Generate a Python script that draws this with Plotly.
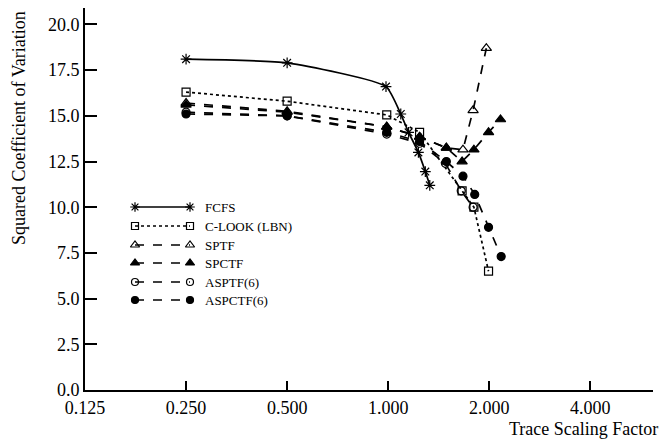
import plotly.graph_objects as go
import math

# ---- data ----
fcfs_x = [0.25, 0.5, 0.985, 1.09, 1.15, 1.23, 1.29, 1.33]
fcfs_y = [18.1, 17.9, 16.6, 15.1, 14.1, 13.0, 11.95, 11.2]

clook_x = [0.25, 0.5, 0.99, 1.24, 1.66, 1.8, 1.99]
clook_y = [16.3, 15.8, 15.05, 14.1, 10.9, 10.0, 6.5]

sptf_x = [0.25, 0.5, 0.99, 1.24, 1.49, 1.67, 1.79, 1.96]
sptf_y = [15.7, 15.25, 14.4, 13.85, 13.25, 13.15, 15.3, 18.7]

spctf_x = [0.25, 0.5, 0.99, 1.24, 1.49, 1.66, 1.8, 1.99, 2.16]
spctf_y = [15.6, 15.2, 14.4, 13.85, 13.25, 12.5, 13.15, 14.1, 14.8]

asptf_x = [0.25, 0.5, 0.99, 1.24, 1.48, 1.65, 1.79]
asptf_y = [15.2, 15.0, 14.0, 13.5, 12.4, 10.9, 10.0]

aspctf_x = [0.25, 0.5, 0.99, 1.24, 1.49, 1.67, 1.81, 1.99, 2.17]
aspctf_y = [15.1, 15.0, 14.1, 13.6, 12.5, 11.7, 10.7, 8.9, 7.3]

series_names = ["FCFS", "C-LOOK (LBN)", "SPTF", "SPCTF", "ASPTF(6)", "ASPCTF(6)"]
x_ticks = [0.125, 0.25, 0.5, 1.0, 2.0, 4.0]
x_tick_labels = ["0.125", "0.250", "0.500", "1.000", "2.000", "4.000"]
y_ticks = [0.0, 2.5, 5.0, 7.5, 10.0, 12.5, 15.0, 17.5, 20.0]

# ---- styles ----
styles = [
    dict(dash="solid", symbol="asterisk-open", size=9),
    dict(dash="dot", symbol="square-open", size=8),
    dict(dash="dash", symbol="triangle-up-open", size=9),
    dict(dash="dash", symbol="triangle-up", size=9),
    dict(dash="dash", symbol="circle-open", size=8),
    dict(dash="dash", symbol="circle", size=8),
]
data = [(fcfs_x, fcfs_y), (clook_x, clook_y), (sptf_x, sptf_y),
        (spctf_x, spctf_y), (asptf_x, asptf_y), (aspctf_x, aspctf_y)]

# page body has an 8px margin: shrink figure and work in shifted coordinates
OFF = 8
W, H = 668 - OFF, 445 - OFF
L, R, T, B = 85 - OFF, 15, 0, 55
pw = W - L - R
ph = H - T - B


def px_x(px):  # reference page x -> paper x
    return (px - OFF - L) / pw


def px_y(py):  # reference page y -> paper y
    return (H - B - (py - OFF)) / ph


fig = go.Figure()
for name, (xs, ys), st in zip(series_names, data, styles):
    fig.add_trace(go.Scatter(
        x=xs, y=ys, mode="lines+markers", name=name, showlegend=False,
        line=dict(color="black", width=1.7, dash=st["dash"],
                  shape="spline" if name == "FCFS" else "linear", smoothing=0.5),
        marker=dict(color="black", symbol=st["symbol"], size=st["size"],
                    line=dict(color="black", width=1.2)),
    ))

# manual legend (line with marker at both ends) on an overlay axis
leg_rows_px = [207, 226, 245, 263, 282, 300]
for name, st, py in zip(series_names, styles, leg_rows_px):
    yy = px_y(py)
    fig.add_trace(go.Scatter(
        x=[px_x(135), px_x(190)], y=[yy, yy], xaxis="x2", yaxis="y2",
        mode="lines+markers", showlegend=False, hoverinfo="skip",
        line=dict(color="black", width=1.6, dash=st["dash"]),
        marker=dict(color="black", symbol=st["symbol"], size=st["size"] - 1,
                    line=dict(color="black", width=1.2)),
    ))
    fig.add_annotation(x=px_x(203), y=yy, xref="x2", yref="y2", text=name,
                       showarrow=False, xanchor="left", yanchor="middle",
                       font=dict(family="Liberation Serif", size=13, color="black"))

font = dict(family="Liberation Serif", size=18, color="black")
octaves = 5.62
fig.update_layout(
    width=W, height=H,
    margin=dict(l=L, r=R, t=T, b=B),
    plot_bgcolor="white", paper_bgcolor="white",
    font=font,
    xaxis=dict(type="log", range=[math.log10(0.125), math.log10(0.125 * 2 ** octaves)],
               tickvals=x_ticks, ticktext=x_tick_labels, ticks="inside", ticklen=9,
               tickwidth=1.5, tickcolor="black", showline=True, linecolor="black",
               linewidth=2, showgrid=False, zeroline=False, tickfont=font),
    yaxis=dict(range=[0, 20.9], tickvals=y_ticks, tickformat=".1f", ticks="inside",
               ticklen=12, tickwidth=1.5, tickcolor="black", showline=True,
               linecolor="black", linewidth=2, showgrid=False, zeroline=False,
               tickfont=font),
    xaxis2=dict(range=[0, 1], overlaying="x", visible=False, anchor="y2"),
    yaxis2=dict(range=[0, 1], overlaying="y", visible=False, anchor="x2"),
)

fig.add_annotation(text="Squared Coefficient of Variation", textangle=-90,
                   xref="paper", yref="paper", x=px_x(19), y=px_y(128),
                   showarrow=False, xanchor="center", yanchor="middle", font=font)
fig.add_annotation(text="Trace Scaling Factor", xref="paper", yref="paper",
                   x=px_x(660), y=px_y(429), showarrow=False,
                   xanchor="right", yanchor="middle", font=font)

fig.write_html("out.html")
